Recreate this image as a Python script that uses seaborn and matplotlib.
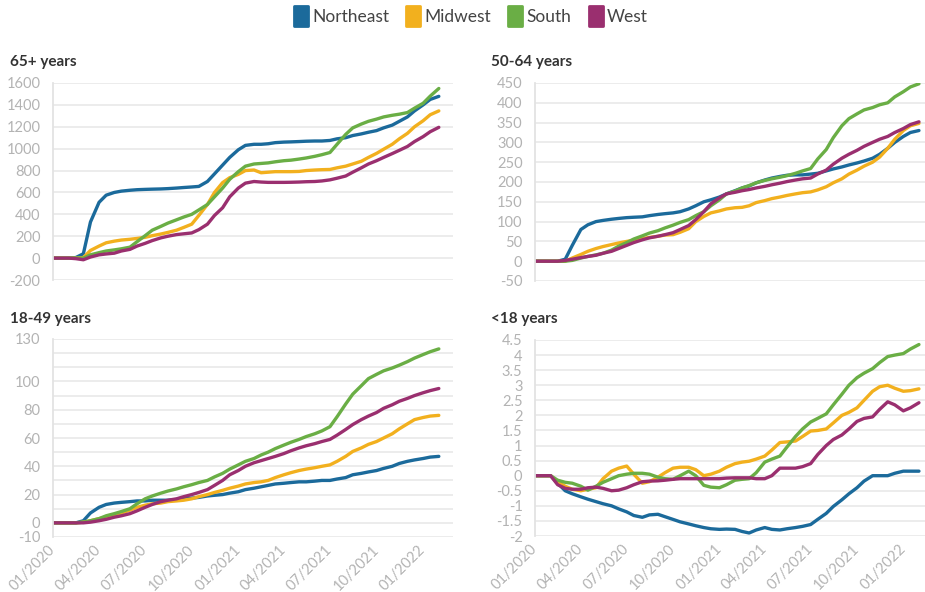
import numpy as np
import pandas as pd
import matplotlib.pyplot as plt
import matplotlib.dates as mdates
from matplotlib.lines import Line2D
from matplotlib.markers import MarkerStyle
from matplotlib.path import Path
import seaborn as sns

# semi-monthly dates, 01/01/2020 .. 01/02/2022
dates = pd.date_range("2020-01-01", "2022-02-01", freq="SMS")

regions = ["Northeast", "Midwest", "South", "West"]
colors = ["#1b6a9b", "#f2b01e", "#6aae45", "#9a2f6f"]

# 65+ years
ne_65 = [0, 0, 0, 5, 40, 330, 510, 575, 600, 612, 620, 625, 628, 630, 632, 635, 640, 645, 650, 655,
         700, 770, 850, 920, 990, 1030, 1040, 1040, 1045, 1055, 1060, 1062, 1065, 1068, 1070,
         1070, 1075, 1090, 1100, 1120, 1135, 1150, 1165, 1190, 1215, 1250, 1290, 1345, 1400, 1450, 1478]
mw_65 = [0, 0, 0, 0, 5, 70, 110, 140, 155, 165, 172, 180, 190, 205, 220, 235, 255, 280, 310, 390,
         490, 600, 690, 735, 765, 800, 805, 780, 785, 790, 790, 790, 792, 800, 805,
         808, 810, 825, 840, 860, 885, 920, 957, 995, 1040, 1090, 1140, 1200, 1255, 1310, 1345]
so_65 = [0, 0, 0, 0, 0, 30, 50, 65, 75, 85, 100, 150, 205, 255, 290, 320, 350, 375, 400, 440,
         490, 560, 640, 720, 790, 840, 860, 865, 870, 880, 890, 895, 905, 915, 930,
         945, 965, 1040, 1130, 1190, 1225, 1250, 1270, 1290, 1305, 1315, 1330, 1370, 1415, 1480, 1550]
we_65 = [0, 0, 0, -5, -15, 10, 30, 38, 45, 65, 80, 110, 135, 160, 185, 200, 215, 222, 230, 260,
         310, 390, 460, 560, 640, 685, 700, 695, 692, 692, 692, 693, 695, 698, 700,
         705, 715, 730, 750, 785, 825, 860, 890, 920, 955, 985, 1020, 1065, 1110, 1155, 1195]

# 50-64 years
ne_50 = [0, 0, 0, 0, 5, 40, 80, 92, 100, 103, 106, 108, 110, 111, 112, 115, 118, 120, 122, 125,
         132, 140, 150, 155, 162, 170, 178, 185, 190, 198, 205, 210, 214, 217, 218,
         218, 220, 222, 228, 233, 238, 243, 248, 253, 260, 270, 285, 300, 315, 325, 330]
mw_50 = [0, 0, 0, 0, 0, 8, 17, 25, 32, 37, 42, 46, 50, 53, 57, 60, 63, 66, 67, 73,
         82, 100, 113, 122, 127, 132, 135, 136, 140, 148, 153, 158, 162, 166, 170,
         173, 175, 180, 188, 198, 208, 220, 230, 240, 250, 263, 285, 308, 330, 342, 348]
so_50 = [0, 0, 0, 0, 0, 2, 8, 12, 16, 20, 28, 38, 47, 56, 64, 71, 77, 84, 91, 98,
         105, 115, 125, 140, 155, 170, 177, 185, 191, 198, 204, 208, 212, 216, 222,
         228, 234, 258, 282, 312, 342, 360, 372, 382, 388, 395, 400, 415, 428, 440, 448]
we_50 = [0, 0, 0, 0, 2, 5, 9, 12, 15, 20, 25, 32, 40, 47, 54, 59, 63, 67, 72, 80,
         90, 105, 125, 145, 160, 170, 174, 178, 181, 185, 189, 193, 197, 201, 205,
         208, 210, 220, 230, 245, 260, 270, 280, 290, 300, 308, 315, 325, 335, 345, 352]

# 18-49 years
ne_18 = [0, 0, 0, 0, 1.5, 7, 11, 13, 14, 14.5, 15, 15.5, 15.5, 16, 16, 16, 16.5, 17, 17.5, 18,
         19, 19.5, 20, 21, 22, 23.5, 24.5, 25.5, 26.5, 27.5, 28, 28.5, 29, 29, 29.5,
         30, 30, 31, 32, 34, 35, 36, 37, 38.5, 40, 42, 43.5, 44.5, 45.5, 46.5, 47]
mw_18 = [0, 0, 0, 0, 0.5, 1.5, 3, 4, 5.5, 7, 9, 11, 12.5, 13.5, 14, 15, 15.5, 16, 17, 18.5,
         20, 21.5, 23, 24.5, 26, 27.5, 28.5, 29, 30, 32, 34, 35.5, 37, 38, 39,
         40, 41, 43.5, 47, 50.5, 53, 55.5, 57.5, 60, 63, 66.5, 70, 73, 74.5, 75.5, 76]
so_18 = [0, 0, 0, 0, 0.5, 1.5, 3, 5, 6.5, 8, 10, 13.5, 17, 19, 21, 22.5, 24, 25.5, 27, 28.5,
         30, 32.5, 35, 38, 41, 43.5, 45.5, 48, 50, 52.5, 55, 57, 59, 61, 63,
         65, 68, 75, 84, 91, 97, 102, 105, 107.5, 109.5, 111.5, 114, 116.5, 119, 121, 123]
we_18 = [0, 0, 0, 0, 0, 0.5, 1.5, 2.5, 4, 5, 6.5, 8.5, 11, 13, 15, 16, 17, 18.5, 20, 21.5,
         23.5, 26.5, 30, 34, 37, 40, 42.5, 44, 45.5, 47, 49, 51, 53, 54.5, 56,
         57.5, 59, 62, 66, 69.5, 73, 75.5, 78, 81, 83.5, 86, 88, 90, 92, 93.5, 95]

# <18 years
ne_0 = [0, 0, 0, -0.25, -0.5, -0.6, -0.7, -0.78, -0.86, -0.93, -1.0, -1.1, -1.2, -1.32, -1.38,
        -1.3, -1.28, -1.36, -1.45, -1.53, -1.6, -1.66, -1.72, -1.76, -1.78, -1.77, -1.78, -1.85,
        -1.9, -1.8, -1.72, -1.78, -1.8, -1.76, -1.72, -1.68, -1.62, -1.45, -1.25, -1.02,
        -0.8, -0.6, -0.4, -0.18, 0.0, 0.0, 0.0, 0.08, 0.15, 0.15, 0.15]
mw_0 = [0, 0, 0, -0.2, -0.35, -0.45, -0.5, -0.45, -0.4, -0.1, 0.15, 0.25, 0.32, 0.05, -0.25,
        -0.2, -0.05, 0.1, 0.25, 0.28, 0.28, 0.2, 0.0, 0.05, 0.15, 0.28, 0.4, 0.45, 0.48, 0.55,
        0.65, 0.85, 1.1, 1.12, 1.15, 1.3, 1.48, 1.5, 1.55, 1.75, 2.0, 2.1, 2.25, 2.5, 2.8,
        2.95, 3.0, 2.9, 2.8, 2.82, 2.88]
so_0 = [0, 0, 0, -0.15, -0.22, -0.25, -0.35, -0.48, -0.35, -0.22, -0.1, 0.0, 0.05, 0.08, 0.08,
        0.05, -0.05, -0.1, -0.12, 0.0, 0.15, 0.0, -0.32, -0.38, -0.4, -0.3, -0.15, -0.12, -0.1,
        0.1, 0.45, 0.55, 0.65, 0.95, 1.3, 1.55, 1.78, 1.9, 2.05, 2.35, 2.7, 3.0, 3.25, 3.4,
        3.55, 3.75, 3.95, 4.0, 4.05, 4.2, 4.35]
we_0 = [0, 0, 0, -0.3, -0.42, -0.45, -0.45, -0.4, -0.38, -0.42, -0.5, -0.48, -0.4, -0.3, -0.2,
        -0.18, -0.17, -0.15, -0.12, -0.1, -0.1, -0.1, -0.1, -0.1, -0.1, -0.08, -0.07, -0.07,
        -0.07, -0.1, -0.1, 0.0, 0.25, 0.25, 0.25, 0.3, 0.4, 0.7, 1.0, 1.2, 1.35, 1.55, 1.8,
        1.9, 1.95, 2.2, 2.45, 2.35, 2.15, 2.25, 2.42]

titles = ["65+ years", "50-64 years", "18-49 years", "<18 years"]
series = [[ne_65, mw_65, so_65, we_65], [ne_50, mw_50, so_50, we_50],
          [ne_18, mw_18, so_18, we_18], [ne_0, mw_0, so_0, we_0]]
ylims = [(-200, 1600), (-50, 450), (-10, 130), (-2, 4.5)]
yticks = [np.arange(-200, 1601, 200), np.arange(-50, 451, 50),
          np.arange(-10, 131, 10), np.arange(-2, 4.51, 0.5)]
ylabel_show = [None, None, {-10, 0, 20, 40, 60, 80, 100, 130}, None]

sns.set_style("white")
plt.rcParams["font.family"] = ["Lato", "DejaVu Sans"]

W, H = 925, 592
fig = plt.figure(figsize=(W / 100, H / 100), dpi=100)

# axes boxes in pixels: left, top, right, bottom
boxes = [(53, 83, 453, 280), (535, 83, 925, 281), (53, 339, 453, 537), (535, 340, 925, 536)]
title_pos = [(10, 62), (491, 62), (10, 319), (491, 319)]

grid_c = "#ebebeb"
tick_c = "#b3b3b3"
palette = dict(zip(regions, colors))

for i in range(4):
    l, t, r, b = boxes[i]
    ax = fig.add_axes([l / W, 1 - b / H, (r - l) / W, (b - t) / H])
    df = pd.DataFrame({
        "date": np.tile(dates, 4),
        "region": np.repeat(regions, len(dates)),
        "value": np.concatenate(series[i]),
    })
    sns.lineplot(data=df, x="date", y="value", hue="region", palette=palette,
                 linewidth=2.4, ax=ax, legend=False)
    ax.set_ylim(*ylims[i])
    right_end = pd.Timestamp("2022-03-01") if i % 2 == 0 else pd.Timestamp("2022-02-13")
    ax.set_xlim(pd.Timestamp("2020-01-01"), right_end)
    ax.set_yticks(yticks[i])
    labels = []
    for v in yticks[i]:
        if ylabel_show[i] is not None and round(v) not in ylabel_show[i]:
            labels.append("")
        else:
            labels.append(f"{v:g}")
    ax.set_yticklabels(labels)
    ax.yaxis.grid(True, color=grid_c, linewidth=1.3)
    ax.set_axisbelow(True)
    for s in ["top", "right", "bottom"]:
        ax.spines[s].set_visible(False)
    ax.spines["left"].set_color("#e3e3e3")
    ax.spines["left"].set_linewidth(1.3)
    ax.tick_params(axis="y", length=6, width=1.3, color=grid_c, labelcolor=tick_c,
                   labelsize=10.5, pad=3)
    ax.xaxis.set_major_locator(mdates.MonthLocator(bymonth=[1, 4, 7, 10]))
    ax.xaxis.set_major_formatter(mdates.DateFormatter("%m/%Y"))
    if i < 2:
        ax.tick_params(axis="x", length=0, labelbottom=False)
    else:
        ax.tick_params(axis="x", length=6, width=1.3, color="#e3e3e3", labelcolor=tick_c,
                       labelsize=10.5, pad=2)
        for lab in ax.get_xticklabels():
            lab.set_rotation(45)
            lab.set_ha("right")
            lab.set_va("center")
            lab.set_rotation_mode("anchor")
    ax.set_xlabel("")
    ax.set_ylabel("")
    tx, ty = title_pos[i]
    fig.text(tx / W, 1 - ty / H, titles[i], fontsize=11, fontweight="bold",
             color="#333333", va="center", ha="left")

# legend with rounded rectangle swatches
rect = Path([(-0.36, -0.5), (0.36, -0.5), (0.36, 0.5), (-0.36, 0.5), (-0.36, -0.5)],
            [Path.MOVETO, Path.LINETO, Path.LINETO, Path.LINETO, Path.CLOSEPOLY])
handles = [Line2D([], [], ls="", marker=MarkerStyle(rect, joinstyle="round"), markersize=15,
                  markerfacecolor=c, markeredgecolor=c, markeredgewidth=2) for c in colors]
fig.legend(handles, regions, loc="center", bbox_to_anchor=(470 / W, 1 - 17 / H), ncol=4,
           frameon=False, fontsize=12.5, handletextpad=0.15, columnspacing=0.9,
           handlelength=1.0, labelcolor="#444444")

fig.savefig("out.png", dpi=100)
